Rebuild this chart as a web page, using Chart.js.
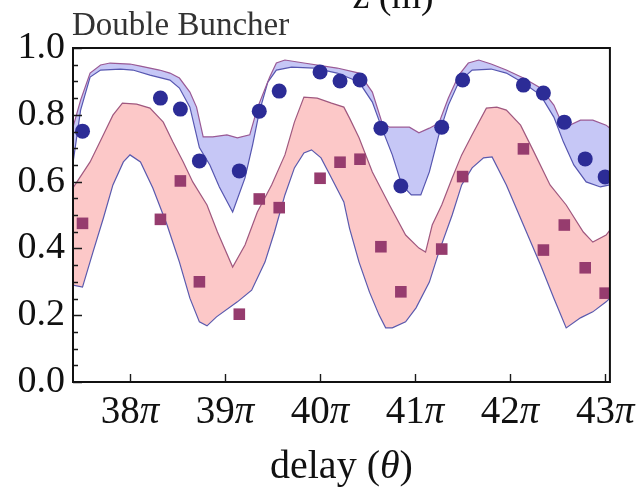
<!DOCTYPE html>
<html><head><meta charset="utf-8">
<script src="https://cdn.jsdelivr.net/npm/chart.js@4.4.1/dist/chart.umd.min.js"></script>
<style>html,body{margin:0;padding:0;background:#fff;}canvas{display:block;}</style>
</head><body>
<canvas id="c" width="639" height="495"></canvas>
<script>
// delay values in units of pi
const delayPts   = [37.50,38.32,38.53,38.73,39.15,39.36,39.57,40.00,40.21,40.42,40.64,40.85,41.28,41.50,42.14,42.35,42.57,42.79,43.00];
const circleVals = [0.751,0.850,0.817,0.662,0.632,0.811,0.871,0.928,0.901,0.904,0.760,0.587,0.763,0.904,0.889,0.865,0.778,0.668,0.614];
const squareVals = [0.475,0.487,0.602,0.300,0.203,0.548,0.522,0.610,0.658,0.667,0.405,0.270,0.398,0.615,0.698,0.395,0.470,0.342,0.266];

const blueUpperX = [37.40,37.48,37.58,37.69,37.79,38.00,38.11,38.31,38.42,38.52,38.63,38.70,38.77,38.87,39.02,39.13,39.26,39.34,39.47,39.54,39.63,39.83,40.18,40.41,40.55,40.65,40.73,40.94,41.04,41.15,41.25,41.35,41.46,41.56,41.67,41.80,41.96,42.14,42.32,42.46,42.53,42.63,42.74,42.87,43.01,43.05];
const blueUpperY = [0.763,0.844,0.925,0.949,0.955,0.952,0.946,0.934,0.925,0.910,0.868,0.823,0.734,0.734,0.740,0.731,0.740,0.820,0.913,0.955,0.964,0.955,0.940,0.925,0.868,0.778,0.763,0.763,0.746,0.760,0.775,0.850,0.919,0.955,0.964,0.952,0.934,0.910,0.880,0.829,0.784,0.769,0.784,0.784,0.769,0.760];
const blueLowerX = [37.40,37.48,37.58,37.69,37.90,38.03,38.21,38.42,38.52,38.63,38.73,38.84,38.94,39.08,39.21,39.29,39.36,39.45,39.54,39.70,39.94,40.18,40.41,40.55,40.65,40.76,40.86,40.96,41.06,41.15,41.25,41.35,41.46,41.60,41.80,41.96,42.14,42.32,42.46,42.56,42.67,42.80,42.95,43.05];
const blueLowerY = [0.656,0.814,0.913,0.934,0.937,0.934,0.919,0.904,0.880,0.823,0.702,0.650,0.584,0.509,0.611,0.710,0.808,0.898,0.934,0.943,0.940,0.925,0.898,0.838,0.760,0.680,0.590,0.560,0.560,0.629,0.740,0.829,0.898,0.934,0.937,0.925,0.895,0.859,0.793,0.719,0.650,0.599,0.584,0.590];
const pinkUpperX = [37.40,37.58,37.72,37.82,37.92,38.07,38.21,38.35,38.45,38.56,38.66,38.81,38.92,39.08,39.21,39.34,39.49,39.63,39.73,39.83,39.97,40.12,40.25,40.31,40.41,40.55,40.73,40.90,41.04,41.11,41.18,41.28,41.39,41.49,41.60,41.75,41.86,41.96,42.11,42.25,42.42,42.59,42.77,42.87,43.01,43.05];
const pinkUpperY = [0.581,0.659,0.740,0.799,0.835,0.832,0.820,0.778,0.719,0.659,0.599,0.530,0.449,0.344,0.410,0.509,0.590,0.680,0.778,0.853,0.850,0.835,0.823,0.790,0.731,0.629,0.530,0.440,0.401,0.389,0.470,0.530,0.611,0.680,0.740,0.820,0.823,0.814,0.769,0.689,0.590,0.530,0.449,0.419,0.440,0.455];
const pinkLowerX = [37.40,37.50,37.61,37.72,37.82,37.93,38.00,38.11,38.24,38.39,38.52,38.63,38.73,38.81,38.91,39.13,39.28,39.42,39.52,39.63,39.73,39.83,39.91,40.01,40.12,40.25,40.31,40.41,40.52,40.62,40.69,40.76,40.90,41.01,41.15,41.25,41.39,41.49,41.60,41.72,41.81,41.96,42.14,42.32,42.46,42.59,42.74,42.87,43.01,43.05];
const pinkLowerY = [0.290,0.284,0.389,0.491,0.590,0.659,0.680,0.659,0.581,0.470,0.359,0.251,0.180,0.168,0.195,0.240,0.275,0.359,0.449,0.560,0.641,0.686,0.695,0.671,0.611,0.539,0.460,0.359,0.269,0.201,0.162,0.162,0.180,0.222,0.299,0.389,0.500,0.590,0.641,0.671,0.674,0.590,0.470,0.350,0.251,0.162,0.192,0.210,0.240,0.251];

const xTickValues = [38,39,40,41,42,43];
const yTickValues = [0.0,0.2,0.4,0.6,0.8,1.0];
const titleText = 'Double Buncher';
const topAxisText = 'z (m)';
const xTitleParts = [['delay (', false], ['θ', true], [')', false]];

function pts(xs, ys){ return xs.map((x,i)=>({x:x, y:ys[i]})); }
function polygon(ax, ay, bx, by){ return pts(ax,ay).concat(pts(bx,by).reverse()); }

const SERIF = '"Liberation Serif", "DejaVu Serif", serif';

function drawParts(ctx, parts, size, cx, baseline) {
  let total = 0;
  const widths = parts.map(p => {
    ctx.font = (p[1] ? 'italic ' : '') + size + 'px ' + SERIF;
    const w = ctx.measureText(p[0]).width; total += w; return w;
  });
  let x = cx - total / 2;
  parts.forEach((p, i) => {
    ctx.font = (p[1] ? 'italic ' : '') + size + 'px ' + SERIF;
    ctx.fillText(p[0], x, baseline);
    x += widths[i];
  });
}

const decor = {
  id: 'decor',
  afterDatasetsDraw(chart){
    const ctx = chart.ctx, a = chart.chartArea, xs = chart.scales.x, ys = chart.scales.y;
    ctx.save();
    ctx.strokeStyle = '#1a1a1a';
    ctx.lineWidth = 1.4;
    ctx.beginPath();
    for (let i = 0; i <= 20; i++) {
      const v = i * 0.05;
      const py = Math.round(ys.getPixelForValue(v)) + 0.5;
      const len = (i % 4 === 0) ? 9 : 5;
      ctx.moveTo(a.left, py); ctx.lineTo(a.left + len, py);
    }
    xTickValues.forEach(v => {
      const px = Math.round(xs.getPixelForValue(v)) + 0.5;
      ctx.moveTo(px, a.bottom); ctx.lineTo(px, a.bottom - 8);
    });
    ctx.stroke();
    ctx.lineWidth = 2;
    ctx.strokeStyle = '#111';
    ctx.strokeRect(a.left, a.top, a.right - a.left, a.bottom - a.top);

    // x tick labels with italic pi
    ctx.fillStyle = '#111';
    ctx.textBaseline = 'alphabetic';
    ctx.textAlign = 'left';
    xs.ticks.forEach(t => {
      drawParts(ctx, [[String(t.value), false], ['π', true]], 39, xs.getPixelForValue(t.value), 423);
    });

    // title
    ctx.fillStyle = '#333';
    ctx.font = '33px ' + SERIF;
    ctx.fillText(titleText, a.left - 1, a.top - 13);

    // top axis title (cut off)
    ctx.fillStyle = '#111';
    drawParts(ctx, [[topAxisText, false]], 38, 393, 8);

    // x axis title with italic theta
    drawParts(ctx, xTitleParts, 40, (a.left + a.right) / 2, 478);
    ctx.restore();
  }
};

const lineDs = (xs, ys, color) => ({
  data: pts(xs, ys), showLine: true, pointRadius: 0, borderColor: color,
  borderWidth: 1.2, fill: false, order: 2, tension: 0
});
const fillDs = (poly, color) => ({
  data: poly, showLine: true, pointRadius: 0, borderColor: 'transparent',
  borderWidth: 0, backgroundColor: color, fill: 'shape', order: 5, tension: 0
});

new Chart(document.getElementById('c'), {
  type: 'scatter',
  data: { datasets: [
    { data: pts(delayPts, circleVals), pointStyle: 'circle', pointRadius: 7.5,
      backgroundColor: '#2c2c96', borderColor: '#2c2c96', borderWidth: 0, order: 0 },
    { data: pts(delayPts, squareVals), pointStyle: 'rect', pointRadius: 8.2,
      backgroundColor: '#963c6e', borderColor: '#963c6e', borderWidth: 0, order: 1 },
    lineDs(blueUpperX, blueUpperY, '#9a5a95'),
    lineDs(blueLowerX, blueLowerY, '#5656b0'),
    lineDs(pinkUpperX, pinkUpperY, '#a0587f'),
    lineDs(pinkLowerX, pinkLowerY, '#5a5aae'),
    fillDs(polygon(blueUpperX, blueUpperY, blueLowerX, blueLowerY), 'rgb(198,199,246)'),
    fillDs(polygon(pinkUpperX, pinkUpperY, pinkLowerX, pinkLowerY), 'rgb(252,200,200)')
  ]},
  options: {
    responsive: false, devicePixelRatio: 1, animation: false,
    layout: { padding: { top: 48, right: 27, left: 0, bottom: 0 } },
    plugins: { legend: { display: false }, tooltip: { enabled: false }, title: { display: false } },
    scales: {
      x: {
        type: 'linear', min: 37.4, max: 43.05,
        grid: { display: false, drawTicks: false }, border: { display: false },
        afterFit(s){ s.height = 113; },
        afterBuildTicks(s){ s.ticks = xTickValues.map(v => ({ value: v })); },
        ticks: { font: { family: SERIF, size: 38 }, color: 'rgba(0,0,0,0)', padding: 5,
                 maxRotation: 0, autoSkip: false, callback: v => v + 'π' }
      },
      y: {
        type: 'linear', min: 0, max: 1,
        grid: { display: false, drawTicks: false }, border: { display: false },
        afterFit(s){ s.width = 73; },
        afterBuildTicks(s){ s.ticks = yTickValues.map(v => ({ value: v })); },
        ticks: { font: { family: SERIF, size: 38 }, color: '#111', padding: 8,
                 callback: v => Number(v).toFixed(1) }
      }
    }
  },
  plugins: [decor]
});
</script>
</body></html>
